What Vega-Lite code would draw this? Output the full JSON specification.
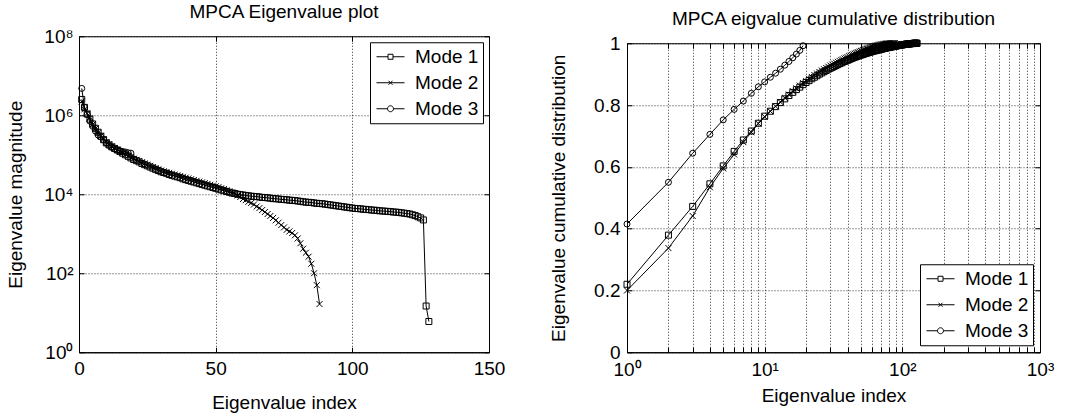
{
"$schema": "https://vega.github.io/schema/vega-lite/v6.json",
"background": "white",
"padding": {"left": 6, "top": 2, "right": 0, "bottom": 0},
"datasets": {
"eig": [
{"m":"Mode 1","i":1,"v":2512000},{"m":"Mode 1","i":2,"v":1585000},{"m":"Mode 1","i":3,"v":1072000},{"m":"Mode 1","i":4,"v":794300},{"m":"Mode 1","i":5,"v":602600},{"m":"Mode 1","i":6,"v":467700},{"m":"Mode 1","i":7,"v":371500},{"m":"Mode 1","i":8,"v":295100},{"m":"Mode 1","i":9,"v":239900},{"m":"Mode 1","i":10,"v":199500},
{"m":"Mode 1","i":11,"v":177800},{"m":"Mode 1","i":12,"v":158500},{"m":"Mode 1","i":13,"v":144500},{"m":"Mode 1","i":14,"v":131800},{"m":"Mode 1","i":15,"v":120200},{"m":"Mode 1","i":16,"v":109600},{"m":"Mode 1","i":17,"v":100000},{"m":"Mode 1","i":18,"v":91200},{"m":"Mode 1","i":19,"v":83180},{"m":"Mode 1","i":20,"v":75860},
{"m":"Mode 1","i":21,"v":70790},{"m":"Mode 1","i":22,"v":66070},{"m":"Mode 1","i":23,"v":60260},{"m":"Mode 1","i":24,"v":56230},{"m":"Mode 1","i":25,"v":52480},{"m":"Mode 1","i":26,"v":48980},{"m":"Mode 1","i":27,"v":45710},{"m":"Mode 1","i":28,"v":42660},{"m":"Mode 1","i":29,"v":39810},{"m":"Mode 1","i":30,"v":37150},
{"m":"Mode 1","i":31,"v":35480},{"m":"Mode 1","i":32,"v":33880},{"m":"Mode 1","i":33,"v":31620},{"m":"Mode 1","i":34,"v":30200},{"m":"Mode 1","i":35,"v":28840},{"m":"Mode 1","i":36,"v":27540},{"m":"Mode 1","i":37,"v":26300},{"m":"Mode 1","i":38,"v":24550},{"m":"Mode 1","i":39,"v":23440},{"m":"Mode 1","i":40,"v":22390},
{"m":"Mode 1","i":41,"v":21380},{"m":"Mode 1","i":42,"v":20420},{"m":"Mode 1","i":43,"v":19500},{"m":"Mode 1","i":44,"v":18620},{"m":"Mode 1","i":45,"v":17780},{"m":"Mode 1","i":46,"v":16980},{"m":"Mode 1","i":47,"v":16220},{"m":"Mode 1","i":48,"v":15490},{"m":"Mode 1","i":49,"v":14790},{"m":"Mode 1","i":50,"v":14130},
{"m":"Mode 1","i":51,"v":13490},{"m":"Mode 1","i":52,"v":12880},{"m":"Mode 1","i":53,"v":12300},{"m":"Mode 1","i":54,"v":11750},{"m":"Mode 1","i":55,"v":11220},{"m":"Mode 1","i":56,"v":10720},{"m":"Mode 1","i":57,"v":10470},{"m":"Mode 1","i":58,"v":10000},{"m":"Mode 1","i":59,"v":9772},{"m":"Mode 1","i":60,"v":9550},
{"m":"Mode 1","i":61,"v":9333},{"m":"Mode 1","i":62,"v":9120},{"m":"Mode 1","i":63,"v":8913},{"m":"Mode 1","i":64,"v":8800},{"m":"Mode 1","i":65,"v":8710},{"m":"Mode 1","i":66,"v":8511},{"m":"Mode 1","i":67,"v":8318},{"m":"Mode 1","i":68,"v":8250},{"m":"Mode 1","i":69,"v":8128},{"m":"Mode 1","i":70,"v":7943},
{"m":"Mode 1","i":71,"v":7762},{"m":"Mode 1","i":72,"v":7700},{"m":"Mode 1","i":73,"v":7586},{"m":"Mode 1","i":74,"v":7413},{"m":"Mode 1","i":75,"v":7350},{"m":"Mode 1","i":76,"v":7244},{"m":"Mode 1","i":77,"v":7079},{"m":"Mode 1","i":78,"v":7000},{"m":"Mode 1","i":79,"v":6918},{"m":"Mode 1","i":80,"v":6761},
{"m":"Mode 1","i":81,"v":6607},{"m":"Mode 1","i":82,"v":6457},{"m":"Mode 1","i":83,"v":6310},{"m":"Mode 1","i":84,"v":6250},{"m":"Mode 1","i":85,"v":6166},{"m":"Mode 1","i":86,"v":6026},{"m":"Mode 1","i":87,"v":5888},{"m":"Mode 1","i":88,"v":5830},{"m":"Mode 1","i":89,"v":5754},{"m":"Mode 1","i":90,"v":5623},
{"m":"Mode 1","i":91,"v":5495},{"m":"Mode 1","i":92,"v":5370},{"m":"Mode 1","i":93,"v":5248},{"m":"Mode 1","i":94,"v":5129},{"m":"Mode 1","i":95,"v":5012},{"m":"Mode 1","i":96,"v":4898},{"m":"Mode 1","i":97,"v":4786},{"m":"Mode 1","i":98,"v":4677},{"m":"Mode 1","i":99,"v":4571},{"m":"Mode 1","i":100,"v":4467},
{"m":"Mode 1","i":101,"v":4365},{"m":"Mode 1","i":102,"v":4330},{"m":"Mode 1","i":103,"v":4266},{"m":"Mode 1","i":104,"v":4169},{"m":"Mode 1","i":105,"v":4130},{"m":"Mode 1","i":106,"v":4074},{"m":"Mode 1","i":107,"v":3981},{"m":"Mode 1","i":108,"v":3950},{"m":"Mode 1","i":109,"v":3890},{"m":"Mode 1","i":110,"v":3802},
{"m":"Mode 1","i":111,"v":3770},{"m":"Mode 1","i":112,"v":3715},{"m":"Mode 1","i":113,"v":3680},{"m":"Mode 1","i":114,"v":3631},{"m":"Mode 1","i":115,"v":3548},{"m":"Mode 1","i":116,"v":3520},{"m":"Mode 1","i":117,"v":3467},{"m":"Mode 1","i":118,"v":3388},{"m":"Mode 1","i":119,"v":3311},{"m":"Mode 1","i":120,"v":3236},
{"m":"Mode 1","i":121,"v":3162},{"m":"Mode 1","i":122,"v":3020},{"m":"Mode 1","i":123,"v":2884},{"m":"Mode 1","i":124,"v":2692},{"m":"Mode 1","i":125,"v":2512},{"m":"Mode 1","i":126,"v":2239},{"m":"Mode 1","i":127,"v":14.8},{"m":"Mode 1","i":128,"v":6.0},
{"m":"Mode 2","i":1,"v":2239000},{"m":"Mode 2","i":2,"v":1413000},{"m":"Mode 2","i":3,"v":1122000},{"m":"Mode 2","i":4,"v":831800},{"m":"Mode 2","i":5,"v":588800},{"m":"Mode 2","i":6,"v":457100},{"m":"Mode 2","i":7,"v":363100},{"m":"Mode 2","i":8,"v":302000},{"m":"Mode 2","i":9,"v":251200},{"m":"Mode 2","i":10,"v":208900},
{"m":"Mode 2","i":11,"v":182000},{"m":"Mode 2","i":12,"v":162200},{"m":"Mode 2","i":13,"v":147900},{"m":"Mode 2","i":14,"v":134900},{"m":"Mode 2","i":15,"v":123000},{"m":"Mode 2","i":16,"v":112200},{"m":"Mode 2","i":17,"v":102300},{"m":"Mode 2","i":18,"v":93330},{"m":"Mode 2","i":19,"v":85110},{"m":"Mode 2","i":20,"v":79430},
{"m":"Mode 2","i":21,"v":74130},{"m":"Mode 2","i":22,"v":69180},{"m":"Mode 2","i":23,"v":64570},{"m":"Mode 2","i":24,"v":60260},{"m":"Mode 2","i":25,"v":56230},{"m":"Mode 2","i":26,"v":52480},{"m":"Mode 2","i":27,"v":48980},{"m":"Mode 2","i":28,"v":45710},{"m":"Mode 2","i":29,"v":42660},{"m":"Mode 2","i":30,"v":39810},
{"m":"Mode 2","i":31,"v":38020},{"m":"Mode 2","i":32,"v":36310},{"m":"Mode 2","i":33,"v":34670},{"m":"Mode 2","i":34,"v":33110},{"m":"Mode 2","i":35,"v":31620},{"m":"Mode 2","i":36,"v":30200},{"m":"Mode 2","i":37,"v":28840},{"m":"Mode 2","i":38,"v":27540},{"m":"Mode 2","i":39,"v":26300},{"m":"Mode 2","i":40,"v":25120},
{"m":"Mode 2","i":41,"v":23990},{"m":"Mode 2","i":42,"v":22910},{"m":"Mode 2","i":43,"v":21880},{"m":"Mode 2","i":44,"v":20890},{"m":"Mode 2","i":45,"v":19950},{"m":"Mode 2","i":46,"v":19050},{"m":"Mode 2","i":47,"v":18200},{"m":"Mode 2","i":48,"v":17380},{"m":"Mode 2","i":49,"v":16600},{"m":"Mode 2","i":50,"v":15850},
{"m":"Mode 2","i":51,"v":15140},{"m":"Mode 2","i":52,"v":14130},{"m":"Mode 2","i":53,"v":13490},{"m":"Mode 2","i":54,"v":12590},{"m":"Mode 2","i":55,"v":11750},{"m":"Mode 2","i":56,"v":10960},{"m":"Mode 2","i":57,"v":10230},{"m":"Mode 2","i":58,"v":9333},{"m":"Mode 2","i":59,"v":8511},{"m":"Mode 2","i":60,"v":7586},
{"m":"Mode 2","i":61,"v":7079},{"m":"Mode 2","i":62,"v":6457},{"m":"Mode 2","i":63,"v":6026},{"m":"Mode 2","i":64,"v":5495},{"m":"Mode 2","i":65,"v":4898},{"m":"Mode 2","i":66,"v":4467},{"m":"Mode 2","i":67,"v":3981},{"m":"Mode 2","i":68,"v":3548},{"m":"Mode 2","i":69,"v":3162},{"m":"Mode 2","i":70,"v":2818},
{"m":"Mode 2","i":71,"v":2512},{"m":"Mode 2","i":72,"v":2188},{"m":"Mode 2","i":73,"v":1905},{"m":"Mode 2","i":74,"v":1660},{"m":"Mode 2","i":75,"v":1445},{"m":"Mode 2","i":76,"v":1259},{"m":"Mode 2","i":77,"v":1148},{"m":"Mode 2","i":78,"v":1047},{"m":"Mode 2","i":79,"v":912},{"m":"Mode 2","i":80,"v":759},
{"m":"Mode 2","i":81,"v":575},{"m":"Mode 2","i":82,"v":417},{"m":"Mode 2","i":83,"v":331},{"m":"Mode 2","i":84,"v":263},{"m":"Mode 2","i":85,"v":174},{"m":"Mode 2","i":86,"v":100},{"m":"Mode 2","i":87,"v":50},{"m":"Mode 2","i":88,"v":16.6},
{"m":"Mode 3","i":1,"v":4786000},{"m":"Mode 3","i":2,"v":1585000},{"m":"Mode 3","i":3,"v":1047000},{"m":"Mode 3","i":4,"v":707900},{"m":"Mode 3","i":5,"v":524800},{"m":"Mode 3","i":6,"v":398100},{"m":"Mode 3","i":7,"v":316200},{"m":"Mode 3","i":8,"v":281800},{"m":"Mode 3","i":9,"v":239900},{"m":"Mode 3","i":10,"v":199500},
{"m":"Mode 3","i":11,"v":173800},{"m":"Mode 3","i":12,"v":154900},{"m":"Mode 3","i":13,"v":141300},{"m":"Mode 3","i":14,"v":131800},{"m":"Mode 3","i":15,"v":125900},{"m":"Mode 3","i":16,"v":120200},{"m":"Mode 3","i":17,"v":117500},{"m":"Mode 3","i":18,"v":112200},{"m":"Mode 3","i":19,"v":109600}
],
"cum": [
{"m":"Mode 1","i":1,"c":0.220},{"m":"Mode 1","i":2,"c":0.379},{"m":"Mode 1","i":3,"c":0.472},{"m":"Mode 1","i":4,"c":0.545},{"m":"Mode 1","i":5,"c":0.603},{"m":"Mode 1","i":6,"c":0.650},{"m":"Mode 1","i":7,"c":0.687},{"m":"Mode 1","i":8,"c":0.716},{"m":"Mode 1","i":9,"c":0.741},{"m":"Mode 1","i":10,"c":0.764},
{"m":"Mode 1","i":11,"c":0.780},{"m":"Mode 1","i":12,"c":0.795},{"m":"Mode 1","i":13,"c":0.808},{"m":"Mode 1","i":14,"c":0.820},{"m":"Mode 1","i":15,"c":0.831},{"m":"Mode 1","i":16,"c":0.841},{"m":"Mode 1","i":17,"c":0.850},{"m":"Mode 1","i":18,"c":0.858},{"m":"Mode 1","i":19,"c":0.866},{"m":"Mode 1","i":20,"c":0.873},
{"m":"Mode 1","i":21,"c":0.879},{"m":"Mode 1","i":22,"c":0.885},{"m":"Mode 1","i":23,"c":0.890},{"m":"Mode 1","i":24,"c":0.895},{"m":"Mode 1","i":25,"c":0.900},{"m":"Mode 1","i":26,"c":0.904},{"m":"Mode 1","i":27,"c":0.908},{"m":"Mode 1","i":28,"c":0.912},{"m":"Mode 1","i":29,"c":0.916},{"m":"Mode 1","i":30,"c":0.919},
{"m":"Mode 1","i":31,"c":0.922},{"m":"Mode 1","i":32,"c":0.925},{"m":"Mode 1","i":33,"c":0.928},{"m":"Mode 1","i":34,"c":0.931},{"m":"Mode 1","i":35,"c":0.934},{"m":"Mode 1","i":36,"c":0.936},{"m":"Mode 1","i":37,"c":0.939},{"m":"Mode 1","i":38,"c":0.941},{"m":"Mode 1","i":39,"c":0.943},{"m":"Mode 1","i":40,"c":0.945},
{"m":"Mode 1","i":41,"c":0.947},{"m":"Mode 1","i":42,"c":0.949},{"m":"Mode 1","i":43,"c":0.951},{"m":"Mode 1","i":44,"c":0.953},{"m":"Mode 1","i":45,"c":0.955},{"m":"Mode 1","i":46,"c":0.956},{"m":"Mode 1","i":47,"c":0.958},{"m":"Mode 1","i":48,"c":0.959},{"m":"Mode 1","i":49,"c":0.961},{"m":"Mode 1","i":50,"c":0.962},
{"m":"Mode 1","i":51,"c":0.963},{"m":"Mode 1","i":52,"c":0.964},{"m":"Mode 1","i":53,"c":0.966},{"m":"Mode 1","i":54,"c":0.967},{"m":"Mode 1","i":55,"c":0.968},{"m":"Mode 1","i":56,"c":0.969},{"m":"Mode 1","i":57,"c":0.970},{"m":"Mode 1","i":58,"c":0.971},{"m":"Mode 1","i":59,"c":0.972},{"m":"Mode 1","i":60,"c":0.973},
{"m":"Mode 1","i":61,"c":0.974},{"m":"Mode 1","i":62,"c":0.975},{"m":"Mode 1","i":63,"c":0.976},{"m":"Mode 1","i":64,"c":0.976},{"m":"Mode 1","i":65,"c":0.977},{"m":"Mode 1","i":66,"c":0.978},{"m":"Mode 1","i":67,"c":0.979},{"m":"Mode 1","i":68,"c":0.979},{"m":"Mode 1","i":69,"c":0.980},{"m":"Mode 1","i":70,"c":0.981},
{"m":"Mode 1","i":71,"c":0.981},{"m":"Mode 1","i":72,"c":0.982},{"m":"Mode 1","i":73,"c":0.983},{"m":"Mode 1","i":74,"c":0.983},{"m":"Mode 1","i":75,"c":0.984},{"m":"Mode 1","i":76,"c":0.985},{"m":"Mode 1","i":77,"c":0.985},{"m":"Mode 1","i":78,"c":0.986},{"m":"Mode 1","i":79,"c":0.986},{"m":"Mode 1","i":80,"c":0.987},
{"m":"Mode 1","i":81,"c":0.987},{"m":"Mode 1","i":82,"c":0.988},{"m":"Mode 1","i":83,"c":0.988},{"m":"Mode 1","i":84,"c":0.989},{"m":"Mode 1","i":85,"c":0.989},{"m":"Mode 1","i":86,"c":0.990},{"m":"Mode 1","i":87,"c":0.990},{"m":"Mode 1","i":88,"c":0.991},{"m":"Mode 1","i":89,"c":0.991},{"m":"Mode 1","i":90,"c":0.991},
{"m":"Mode 1","i":91,"c":0.992},{"m":"Mode 1","i":92,"c":0.992},{"m":"Mode 1","i":93,"c":0.993},{"m":"Mode 1","i":94,"c":0.993},{"m":"Mode 1","i":95,"c":0.993},{"m":"Mode 1","i":96,"c":0.994},{"m":"Mode 1","i":97,"c":0.994},{"m":"Mode 1","i":98,"c":0.994},{"m":"Mode 1","i":99,"c":0.995},{"m":"Mode 1","i":100,"c":0.995},
{"m":"Mode 1","i":101,"c":0.995},{"m":"Mode 1","i":102,"c":0.996},{"m":"Mode 1","i":103,"c":0.996},{"m":"Mode 1","i":104,"c":0.996},{"m":"Mode 1","i":105,"c":0.996},{"m":"Mode 1","i":106,"c":0.997},{"m":"Mode 1","i":107,"c":0.997},{"m":"Mode 1","i":108,"c":0.997},{"m":"Mode 1","i":109,"c":0.997},{"m":"Mode 1","i":110,"c":0.998},
{"m":"Mode 1","i":111,"c":0.998},{"m":"Mode 1","i":112,"c":0.998},{"m":"Mode 1","i":113,"c":0.998},{"m":"Mode 1","i":114,"c":0.998},{"m":"Mode 1","i":115,"c":0.999},{"m":"Mode 1","i":116,"c":0.999},{"m":"Mode 1","i":117,"c":0.999},{"m":"Mode 1","i":118,"c":0.999},{"m":"Mode 1","i":119,"c":0.999},{"m":"Mode 1","i":120,"c":0.999},
{"m":"Mode 1","i":121,"c":1.0},{"m":"Mode 1","i":122,"c":1.0},{"m":"Mode 1","i":123,"c":1.0},{"m":"Mode 1","i":124,"c":1.0},{"m":"Mode 1","i":125,"c":1.0},{"m":"Mode 1","i":126,"c":1.0},{"m":"Mode 1","i":127,"c":1.0},{"m":"Mode 1","i":128,"c":1.0},
{"m":"Mode 2","i":1,"c":0.200},{"m":"Mode 2","i":2,"c":0.337},{"m":"Mode 2","i":3,"c":0.441},{"m":"Mode 2","i":4,"c":0.534},{"m":"Mode 2","i":5,"c":0.595},{"m":"Mode 2","i":6,"c":0.640},{"m":"Mode 2","i":7,"c":0.680},{"m":"Mode 2","i":8,"c":0.712},{"m":"Mode 2","i":9,"c":0.740},{"m":"Mode 2","i":10,"c":0.762},
{"m":"Mode 2","i":11,"c":0.780},{"m":"Mode 2","i":12,"c":0.796},{"m":"Mode 2","i":13,"c":0.810},{"m":"Mode 2","i":14,"c":0.823},{"m":"Mode 2","i":15,"c":0.834},{"m":"Mode 2","i":16,"c":0.845},{"m":"Mode 2","i":17,"c":0.854},{"m":"Mode 2","i":18,"c":0.863},{"m":"Mode 2","i":19,"c":0.871},{"m":"Mode 2","i":20,"c":0.878},
{"m":"Mode 2","i":21,"c":0.885},{"m":"Mode 2","i":22,"c":0.891},{"m":"Mode 2","i":23,"c":0.897},{"m":"Mode 2","i":24,"c":0.902},{"m":"Mode 2","i":25,"c":0.907},{"m":"Mode 2","i":26,"c":0.912},{"m":"Mode 2","i":27,"c":0.916},{"m":"Mode 2","i":28,"c":0.920},{"m":"Mode 2","i":29,"c":0.924},{"m":"Mode 2","i":30,"c":0.928},
{"m":"Mode 2","i":31,"c":0.931},{"m":"Mode 2","i":32,"c":0.934},{"m":"Mode 2","i":33,"c":0.937},{"m":"Mode 2","i":34,"c":0.940},{"m":"Mode 2","i":35,"c":0.943},{"m":"Mode 2","i":36,"c":0.946},{"m":"Mode 2","i":37,"c":0.948},{"m":"Mode 2","i":38,"c":0.951},{"m":"Mode 2","i":39,"c":0.953},{"m":"Mode 2","i":40,"c":0.955},
{"m":"Mode 2","i":41,"c":0.958},{"m":"Mode 2","i":42,"c":0.960},{"m":"Mode 2","i":43,"c":0.962},{"m":"Mode 2","i":44,"c":0.964},{"m":"Mode 2","i":45,"c":0.966},{"m":"Mode 2","i":46,"c":0.968},{"m":"Mode 2","i":47,"c":0.970},{"m":"Mode 2","i":48,"c":0.971},{"m":"Mode 2","i":49,"c":0.973},{"m":"Mode 2","i":50,"c":0.975},
{"m":"Mode 2","i":51,"c":0.976},{"m":"Mode 2","i":52,"c":0.978},{"m":"Mode 2","i":53,"c":0.979},{"m":"Mode 2","i":54,"c":0.981},{"m":"Mode 2","i":55,"c":0.982},{"m":"Mode 2","i":56,"c":0.983},{"m":"Mode 2","i":57,"c":0.984},{"m":"Mode 2","i":58,"c":0.986},{"m":"Mode 2","i":59,"c":0.987},{"m":"Mode 2","i":60,"c":0.988},
{"m":"Mode 2","i":61,"c":0.989},{"m":"Mode 2","i":62,"c":0.990},{"m":"Mode 2","i":63,"c":0.991},{"m":"Mode 2","i":64,"c":0.992},{"m":"Mode 2","i":65,"c":0.992},{"m":"Mode 2","i":66,"c":0.993},{"m":"Mode 2","i":67,"c":0.994},{"m":"Mode 2","i":68,"c":0.995},{"m":"Mode 2","i":69,"c":0.995},{"m":"Mode 2","i":70,"c":0.996},
{"m":"Mode 2","i":71,"c":0.996},{"m":"Mode 2","i":72,"c":0.997},{"m":"Mode 2","i":73,"c":0.997},{"m":"Mode 2","i":74,"c":0.998},{"m":"Mode 2","i":75,"c":0.998},{"m":"Mode 2","i":76,"c":0.998},{"m":"Mode 2","i":77,"c":0.999},{"m":"Mode 2","i":78,"c":0.999},{"m":"Mode 2","i":79,"c":0.999},{"m":"Mode 2","i":80,"c":0.999},
{"m":"Mode 2","i":81,"c":1.0},{"m":"Mode 2","i":82,"c":1.0},{"m":"Mode 2","i":83,"c":1.0},{"m":"Mode 2","i":84,"c":1.0},{"m":"Mode 2","i":85,"c":1.0},{"m":"Mode 2","i":86,"c":1.0},{"m":"Mode 2","i":87,"c":1.0},{"m":"Mode 2","i":88,"c":1.0},
{"m":"Mode 3","i":1,"c":0.415},{"m":"Mode 3","i":2,"c":0.550},{"m":"Mode 3","i":3,"c":0.644},{"m":"Mode 3","i":4,"c":0.705},{"m":"Mode 3","i":5,"c":0.752},{"m":"Mode 3","i":6,"c":0.786},{"m":"Mode 3","i":7,"c":0.813},{"m":"Mode 3","i":8,"c":0.838},{"m":"Mode 3","i":9,"c":0.859},{"m":"Mode 3","i":10,"c":0.875},
{"m":"Mode 3","i":11,"c":0.890},{"m":"Mode 3","i":12,"c":0.903},{"m":"Mode 3","i":13,"c":0.916},{"m":"Mode 3","i":14,"c":0.929},{"m":"Mode 3","i":15,"c":0.941},{"m":"Mode 3","i":16,"c":0.953},{"m":"Mode 3","i":17,"c":0.965},{"m":"Mode 3","i":18,"c":0.977},{"m":"Mode 3","i":19,"c":0.992}
]
},
"hconcat": [
{
"width": 410, "height": 316,
"title": {"text": "MPCA Eigenvalue plot", "offset": 5},
"data": {"name": "eig"},
"layer": [
{"mark": {"type": "line", "color": "black", "strokeWidth": 1},
 "encoding": {
  "x": {"field": "i", "type": "quantitative", "scale": {"domain": [0, 150], "nice": false},
        "axis": {"title": "Eigenvalue index", "values": [0, 50, 100, 150], "grid": true, "tickSize": -5, "labelPadding": 12, "titlePadding": 15}},
  "y": {"field": "v", "type": "quantitative", "scale": {"type": "log", "domain": [1, 100000000], "nice": false},
        "axis": {"title": "Eigenvalue magnitude", "values": [1, 100, 10000, 1000000, 100000000], "labelExpr": "datum.value == 1 ? '10⁰' : datum.value == 100 ? '10²' : datum.value == 10000 ? '10⁴' : datum.value == 1000000 ? '10⁶' : '10⁸'", "grid": true, "tickSize": -5, "labelPadding": 11, "titlePadding": 18}},
  "detail": {"field": "m"}
 }},
{"mark": {"type": "point", "filled": false, "color": "black", "strokeWidth": 1, "size": 36, "opacity": 1},
 "encoding": {
  "x": {"field": "i", "type": "quantitative", "axis": {"orient": "top", "labels": false, "title": null, "grid": false, "domain": false, "tickSize": -5, "values": [0, 50, 100, 150]}},
  "y": {"field": "v", "type": "quantitative", "axis": {"orient": "right", "labels": false, "title": null, "grid": false, "domain": false, "tickSize": -5, "values": [1, 100, 10000, 1000000, 100000000]}},
  "shape": {"field": "m", "type": "nominal",
            "scale": {"domain": ["Mode 1", "Mode 2", "Mode 3"], "range": ["square", "M-1,-1L1,1M1,-1L-1,1", "circle"]},
            "legend": null}
 }},
{"mark": {"type": "point", "filled": false, "color": "black", "strokeWidth": 1, "size": 400, "opacity": 0},
 "encoding": {
  "x": {"field": "i", "type": "quantitative", "axis": null},
  "y": {"field": "v", "type": "quantitative", "axis": null},
  "shape": {"field": "m", "type": "nominal",
            "scale": {"domain": ["Mode 1", "Mode 2", "Mode 3"], "range": ["M-1.4,0H-0.25M0.25,0H1.4M-0.25,-0.25H0.25V0.25H-0.25Z", "M-1.4,0H1.4M-0.2,-0.2L0.2,0.2M0.2,-0.2L-0.2,0.2", "M-1.4,0H-0.3M0.3,0H1.4M-0.3,0A0.3,0.3,0,1,0,0.3,0A0.3,0.3,0,1,0,-0.3,0"]},
            "legend": {"orient": "top-right", "offset": 6, "symbolOpacity": 1}}
 }}
],
"resolve": {"axis": {"x": "independent", "y": "independent"}, "scale": {"shape": "independent"}, "legend": {"shape": "independent"}}
},
{
"width": 413, "height": 309,
"title": {"text": "MPCA eigvalue cumulative distribution", "offset": 5},
"data": {"name": "cum"},
"layer": [
{"mark": {"type": "line", "color": "black", "strokeWidth": 1},
 "encoding": {
  "x": {"field": "i", "type": "quantitative", "scale": {"type": "log", "domain": [1, 1000], "nice": false},
        "axis": {"title": "Eigenvalue index", "values": [1,2,3,4,5,6,7,8,9,10,20,30,40,50,60,70,80,90,100,200,300,400,500,600,700,800,900,1000], "labelExpr": "datum.value == 1 ? '10⁰' : datum.value == 10 ? '10¹' : datum.value == 100 ? '10²' : datum.value == 1000 ? '10³' : ''", "grid": true, "tickSize": -5, "labelPadding": 13, "titlePadding": 7}},
  "y": {"field": "c", "type": "quantitative", "scale": {"domain": [0, 1], "nice": false},
        "axis": {"title": "Eigenvalue cumulative distribution", "values": [0, 0.2, 0.4, 0.6, 0.8, 1], "format": "~g", "grid": true, "tickSize": -5, "labelPadding": 12, "titlePadding": 25}},
  "detail": {"field": "m"}
 }},
{"mark": {"type": "point", "filled": false, "color": "black", "strokeWidth": 1, "size": 36, "opacity": 1},
 "encoding": {
  "x": {"field": "i", "type": "quantitative", "axis": {"orient": "top", "labels": false, "title": null, "grid": false, "domain": false, "tickSize": -5, "values": [1,2,3,4,5,6,7,8,9,10,20,30,40,50,60,70,80,90,100,200,300,400,500,600,700,800,900,1000]}},
  "y": {"field": "c", "type": "quantitative", "axis": {"orient": "right", "labels": false, "title": null, "grid": false, "domain": false, "tickSize": -5, "values": [0, 0.2, 0.4, 0.6, 0.8, 1]}},
  "shape": {"field": "m", "type": "nominal",
            "scale": {"domain": ["Mode 1", "Mode 2", "Mode 3"], "range": ["square", "M-1,-1L1,1M1,-1L-1,1", "circle"]},
            "legend": null}
 }},
{"mark": {"type": "point", "filled": false, "color": "black", "strokeWidth": 1, "size": 400, "opacity": 0},
 "encoding": {
  "x": {"field": "i", "type": "quantitative", "axis": null},
  "y": {"field": "c", "type": "quantitative", "axis": null},
  "shape": {"field": "m", "type": "nominal",
            "scale": {"domain": ["Mode 1", "Mode 2", "Mode 3"], "range": ["M-1.4,0H-0.25M0.25,0H1.4M-0.25,-0.25H0.25V0.25H-0.25Z", "M-1.4,0H1.4M-0.2,-0.2L0.2,0.2M0.2,-0.2L-0.2,0.2", "M-1.4,0H-0.3M0.3,0H1.4M-0.3,0A0.3,0.3,0,1,0,0.3,0A0.3,0.3,0,1,0,-0.3,0"]},
            "legend": {"orient": "bottom-right", "offset": 7, "symbolOpacity": 1}}
 }}
],
"resolve": {"axis": {"x": "independent", "y": "independent"}, "scale": {"shape": "independent"}, "legend": {"shape": "independent"}}
}
],
"spacing": 43,
"center": true,
"resolve": {"scale": {"shape": "independent"}, "legend": {"shape": "independent"}},
"config": {
 "font": "Liberation Sans",
 "view": {"stroke": "black", "strokeWidth": 1},
 "axis": {"labelFont": "Liberation Sans", "titleFont": "Liberation Sans", "labelFontSize": 19, "titleFontSize": 19, "titleFontWeight": "normal", "labelColor": "black", "titleColor": "black", "domainColor": "black", "domainWidth": 1, "tickColor": "black", "tickWidth": 1, "gridColor": "black", "gridDash": [1, 2], "gridOpacity": 1, "gridWidth": 0.8, "labelFlush": false, "labelOverlap": false},
 "title": {"font": "Liberation Sans", "fontSize": 19, "fontWeight": "normal", "color": "black"},
 "legend": {"title": null, "strokeColor": "black", "fillColor": "white", "padding": 4, "labelFont": "Liberation Sans", "labelFontSize": 19, "labelColor": "black", "symbolSize": 400, "symbolStrokeWidth": 1, "symbolStrokeColor": "black", "symbolFillColor": "transparent", "symbolOffset": 6, "labelOffset": 14, "rowPadding": 5}
}
}
